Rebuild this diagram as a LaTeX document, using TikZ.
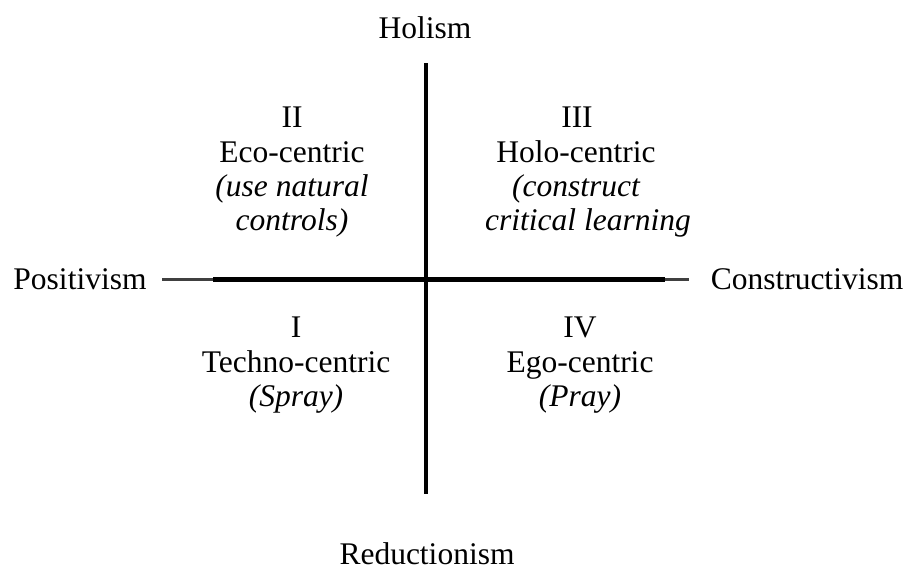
\documentclass[tikz,border=0pt]{standalone}
\usepackage{fontspec}
\setmainfont{Liberation Serif}
\begin{document}
\begin{tikzpicture}[x=1pt,y=-1pt,
  lbl/.style={inner sep=0pt,anchor=base,font=\fontsize{31.5}{34}\selectfont},
  itl/.style={lbl,font=\fontsize{31.5}{34}\selectfont\itshape},
  axis/.style={line width=4.5pt,black},
  axisend/.style={line width=3.3pt,black!75}]
\useasboundingbox (0,0) rectangle (911,570);
% axes
\coordinate (vt) at (425.8,63);
\coordinate (vb) at (425.8,494);
\coordinate (hl) at (162,279.3);
\coordinate (hla) at (213,279.3);
\coordinate (hr) at (689,279.3);
\coordinate (hra) at (665,279.3);
\draw[axisend] (hl) -- (hla);
\draw[axisend] (hra) -- (hr);
\draw[axis] (hla) -- (hra);
\draw[axis] (vt) -- (vb);
% axis labels
\node[lbl] (hol) at (425,38) {Holism};
\node[lbl] (red) at (427,564) {Reductionism};
\node[lbl] (pos) at (80,289) {Positivism};
\node[lbl] (con) at (807,289) {Constructivism};
% quadrant II
\node[lbl] (q2a) at (292,127) {II};
\node[lbl] (q2b) at (292,162) {Eco-centric};
\node[itl] (q2c) at (292,196) {(use natural};
\node[itl] (q2d) at (292,230) {controls)};
% quadrant III
\node[lbl] (q3a) at (577,127) {III};
\node[lbl] (q3b) at (576,162) {Holo-centric};
\node[itl] (q3c) at (576,196) {(construct};
\node[itl] (q3d) at (588,230) {critical learning};
% quadrant I
\node[lbl] (q1a) at (296,337) {I};
\node[lbl] (q1b) at (296,372) {Techno-centric};
\node[itl] (q1c) at (296,406) {(Spray)};
% quadrant IV
\node[lbl] (q4a) at (580,337) {IV};
\node[lbl] (q4b) at (580,372) {Ego-centric};
\node[itl] (q4c) at (580,406) {(Pray)};
\end{tikzpicture}
\end{document}
